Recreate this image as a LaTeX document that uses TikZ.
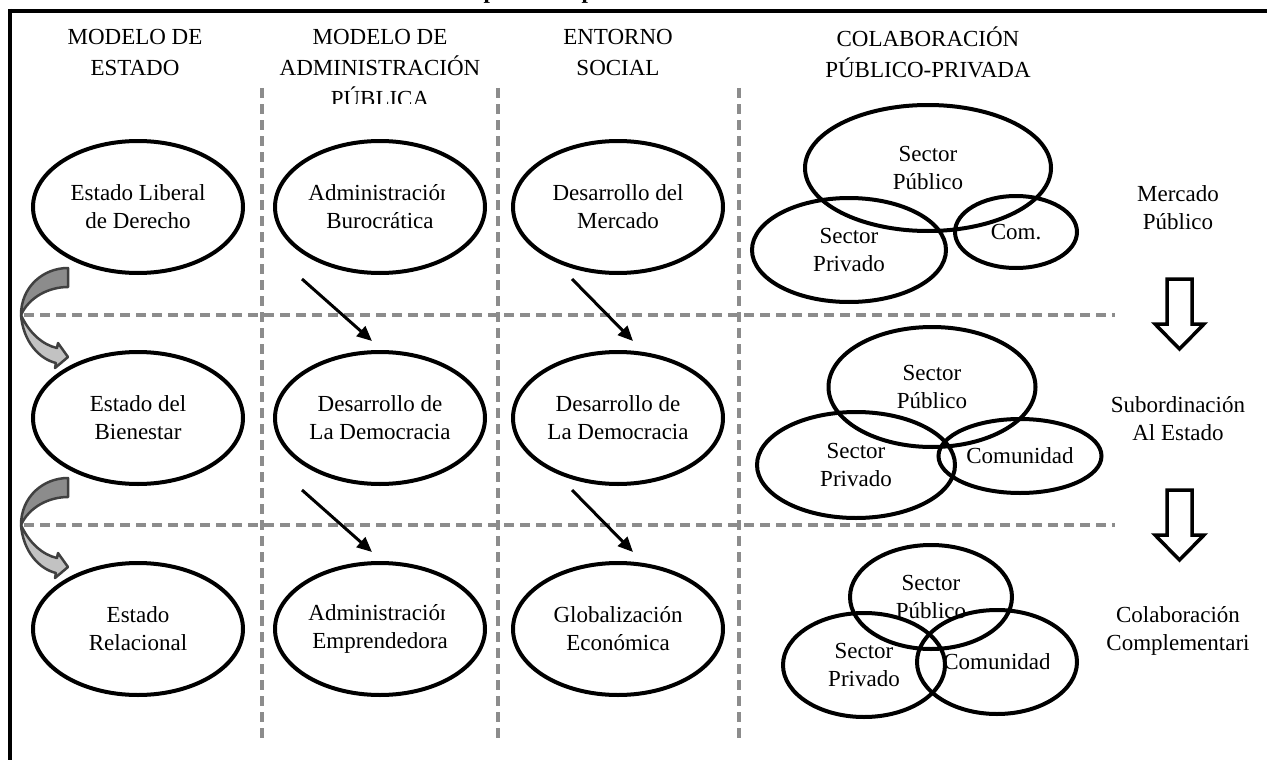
\documentclass[tikz,border=0pt]{standalone}
\usepackage{fontspec}
\setmainfont{Liberation Serif}
\usetikzlibrary{shapes.geometric,arrows.meta}

\definecolor{sepgray}{gray}{0.55}
\definecolor{ribbondark}{gray}{0.55}
\definecolor{ribbonlight}{gray}{0.76}
\definecolor{ribbonedge}{gray}{0.25}

\begin{document}
\begin{tikzpicture}[x=1pt,y=-1pt,
  txt/.style={font=\fontsize{23}{28}\selectfont, align=center, inner sep=0pt},
  hdr/.style={font=\fontsize{23}{31}\selectfont, align=center, inner sep=0pt},
  oval/.style={ellipse, draw, line width=4pt, minimum width=210pt, minimum height=132pt, inner sep=0pt, txt},
  venn/.style={ellipse, draw, line width=4pt, inner sep=0pt, txt},
  sepline/.style={draw=sepgray, line width=4pt, dash pattern=on 10pt off 6pt},
  darr/.style={line width=3pt, -{Triangle[length=15pt,width=13pt]}},
  downarrow/.pic={
    \draw[line width=3.5pt, fill=white, line join=miter]
      (-12.5,0) -- (12.5,0) -- (12.5,45) -- (24.5,45) -- (0,70)
      -- (-24.5,45) -- (-12.5,45) -- cycle;
  },
  curvearrow/.pic={
    \draw[ribbonedge, line width=2.5pt, fill=ribbondark, line join=round]
      (0,0) .. controls (0,-28) and (22,-47) .. (47,-47) -- (47,-28)
      .. controls (28,-28) and (8,-18) .. (0,0) -- cycle;
    \draw[ribbonedge, line width=2.5pt, fill=ribbonlight, line join=round]
      (0,0) .. controls (2,26) and (18,44) .. (35,48) -- (34,53) -- (47,42)
      -- (37,28) -- (36,33) .. controls (22,30) and (8,18) .. (0,0) -- cycle;
  }]
\useasboundingbox (0,0) rectangle (1267,760);

% title fragments cut by the top edge
\node[font=\fontsize{23}{28}\selectfont\bfseries, anchor=base, inner sep=0pt] (frag1) at (490,-1) {p};
\node[font=\fontsize{23}{28}\selectfont\bfseries, anchor=base, inner sep=0pt] (frag2) at (588,-1) {p};

% frame
\draw[line width=4pt] (8,11) -- (1267,11);
\draw[line width=4pt] (10,9) -- (10,760);

% column headers
\node[hdr] (h1) at (135,52) {MODELO DE\\ESTADO};
\begin{scope}
  \clip (250,15) rectangle (510,103);
  \node[hdr] (h2) at (380,68) {MODELO DE\\ADMINISTRACIÓN\\PÚBLICA};
\end{scope}
\node[hdr] (h3) at (618,52) {ENTORNO\\SOCIAL};
\node[hdr] (h4) at (928,52) {COLABORACIÓN\\PÚBLICO-PRIVADA};

% dashed separators
\draw[sepline] (262,88) -- (262,741);
\draw[sepline] (498,88) -- (498,741);
\draw[sepline] (739,88) -- (739,741);
\draw[sepline] (24,315) -- (1115,315);
\draw[sepline] (24,525) -- (1115,525);

% column ovals
\node[oval] (e11) at (138,207) {Estado Liberal\\de Derecho};
\node[oval] (e12) at (380,207) {};
\begin{scope}
  \clip (270,150) rectangle (444,208) (270,208) rectangle (490,262);
  \node[txt] (t12) at (e12) {Administración\\Burocrática};
\end{scope}
\node[oval] (e13) at (618,207) {Desarrollo del\\Mercado};

\node[oval] (e21) at (138,418) {Estado del\\Bienestar};
\node[oval] (e22) at (380,418) {Desarrollo de\\La Democracia};
\node[oval] (e23) at (618,418) {Desarrollo de\\La Democracia};

\node[oval] (e31) at (138,629) {Estado\\Relacional};
\node[oval] (e32) at (380,629) {};
\begin{scope}
  \clip (270,570) rectangle (444,630) (270,630) rectangle (490,690);
  \node[txt] (t32) at (e32) {Administración\\Emprendedora};
\end{scope}
\node[oval] (e33) at (618,629) {Globalización\\Económica};

% public-private collaboration diagrams
\node[venn, minimum width=246pt, minimum height=126pt] (vp1) at (928,168) {Sector\\Público};
\node[venn, minimum width=194pt, minimum height=104pt] (vv1) at (849,250) {Sector\\Privado};
\node[venn, minimum width=122pt, minimum height=72pt] (vc1) at (1016,232) {Com.};

\node[venn, minimum width=207pt, minimum height=120pt] (vp2) at (932,387) {Sector\\Público};
\node[venn, minimum width=198pt, minimum height=106pt] (vv2) at (856,465) {Sector\\Privado};
\node[venn, minimum width=163pt, minimum height=74pt] (vc2) at (1020,456) {};
\begin{scope}
  \clip (960,430) rectangle (1073,480);
  \node[txt] (tc2) at (vc2) {Comunidad};
\end{scope}

\node[venn, minimum width=162pt, minimum height=104pt] (vp3) at (931,597) {Sector\\Público};
\node[venn, minimum width=162pt, minimum height=104pt] (vv3) at (864,665) {Sector\\Privado};
\node[venn, minimum width=160pt, minimum height=104pt] (vc3) at (997,662) {};
\begin{scope}
  \clip (935,640) rectangle (1048,690);
  \node[txt] (tc3) at (vc3) {Comunidad};
\end{scope}

% stage labels
\node[txt] (s1) at (1178,208) {Mercado\\Público};
\node[txt] (s2) at (1178,419) {Subordinación\\Al Estado};
\node[txt] (s3) at (1178,631) {Colaboración\\Complementari};

% transitions between stages
\pic at (1179.5,279) {downarrow};
\pic at (1179.5,490) {downarrow};

\pic at (21,315) {curvearrow};
\pic at (21,525) {curvearrow};

\coordinate (a12s) at (302,279);
\coordinate (a12e) at (372,341);
\coordinate (a13s) at (572,279);
\coordinate (a13e) at (633,341);
\coordinate (a22s) at (302,490);
\coordinate (a22e) at (372,552);
\coordinate (a23s) at (572,490);
\coordinate (a23e) at (633,552);
\draw[darr] (a12s) -- (a12e);
\draw[darr] (a13s) -- (a13e);
\draw[darr] (a22s) -- (a22e);
\draw[darr] (a23s) -- (a23e);
\end{tikzpicture}
\end{document}
